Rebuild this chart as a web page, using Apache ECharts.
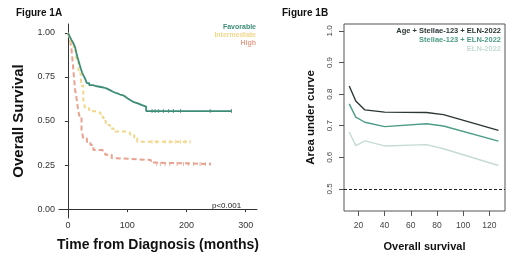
<!DOCTYPE html>
<html>
<head>
<meta charset="utf-8">
<script src="https://cdn.jsdelivr.net/npm/echarts@6/dist/echarts.min.js"></script>
<style>
  html, body { margin: 0; padding: 0; background: #fff; }
  #chart { width: 520px; height: 260px; }
</style>
</head>
<body>
<div id="chart"></div>
<script>
// Figure 1A: Kaplan-Meier steps [months, survival]
const favorable = [
  [0, 1], [3, 0.98], [6, 0.96], [8, 0.948], [10, 0.935], [12, 0.92], [14, 0.89],
  [16, 0.864], [18, 0.84], [20, 0.817], [22, 0.795], [24, 0.775], [26, 0.76],
  [29, 0.74], [32, 0.715], [36, 0.703], [42, 0.697], [49, 0.69],
  [60, 0.685], [65, 0.675], [71, 0.666], [76, 0.66], [80, 0.656], [84, 0.65],
  [88, 0.647], [92, 0.638], [97, 0.628], [101, 0.619], [105, 0.609], [110, 0.6],
  [118, 0.59], [125, 0.581], [132, 0.556], [276, 0.556]
]
const intermediate = [
  [0, 1], [3, 0.97], [6, 0.93], [10, 0.9], [14, 0.84], [18, 0.77], [22, 0.7],
  [26, 0.62], [29, 0.572], [36, 0.555], [49, 0.547], [55, 0.524], [60, 0.5],
  [64, 0.478], [71, 0.458], [77, 0.44], [96, 0.434], [105, 0.421], [112, 0.402],
  [117, 0.383], [207, 0.383]
]
const high = [
  [0, 1], [3, 0.97], [6, 0.91], [9, 0.8], [12, 0.68], [15, 0.62], [17, 0.57],
  [19, 0.53], [23, 0.45], [26, 0.402], [32, 0.383], [38, 0.364], [43, 0.336],
  [57, 0.327], [63, 0.309], [74, 0.289], [82, 0.279], [140, 0.264], [148, 0.256],
  [241, 0.256]
]
// censoring marks
const favCensor = [[142, 0.556], [147, 0.556], [153, 0.556], [161, 0.556], [170, 0.556], [178, 0.556], [190, 0.556], [240, 0.556], [276, 0.556]]
const intCensor = [[142, 0.383], [150, 0.383], [164, 0.383], [172, 0.383], [181, 0.383], [190, 0.383], [198, 0.383], [206, 0.383]]
const highCensor = [[150, 0.256], [156, 0.256], [164, 0.256], [172, 0.256], [184, 0.256], [195, 0.256], [203, 0.256], [212, 0.256], [223, 0.256], [232, 0.256], [240, 0.256]]
const kmXTicks = [0, 100, 200, 300]
const kmYTicks = [0, 0.25, 0.5, 0.75, 1]

// Figure 1B: time-dependent AUC
const aucTimes = [13, 18, 25, 40, 72, 85, 127]
const aucFull = [0.826, 0.778, 0.75, 0.743, 0.742, 0.735, 0.685]
const aucStellae = [0.769, 0.727, 0.711, 0.697, 0.706, 0.699, 0.651]
const aucEln = [0.68, 0.637, 0.652, 0.636, 0.64, 0.627, 0.574]
const aucXTicks = [20, 40, 60, 80, 100, 120]
const aucYTicks = [0.5, 0.6, 0.7, 0.8, 0.9, 1.0]

const C_FAV = '#3c8c76', C_INT = '#f1d68c', C_HIGH = '#e9a28f'
const C_A = '#2b3736', C_B = '#4d9c87', C_C = '#c6dbd3'
const FONT = 'Liberation Sans, Arial, sans-serif'

const chart = echarts.init(document.getElementById('chart'), null, { renderer: 'canvas' })

const kmAxisLine = { show: true, lineStyle: { color: '#333', width: 1 } }
const rAxisLine = { show: false }

const option = {
  backgroundColor: '#fff',
  animation: false,
  textStyle: { fontFamily: FONT },
  title: [
    { text: 'Figure 1A', left: 11, top: 3, textStyle: { fontSize: 10, fontWeight: 'bold', color: '#111', fontFamily: FONT } },
    { text: 'Figure 1B', left: 277, top: 3, textStyle: { fontSize: 10, fontWeight: 'bold', color: '#111', fontFamily: FONT } }
  ],
  grid: [
    { left: 59, top: 24, width: 198, height: 194 },
    { left: 344, top: 24, width: 161, height: 187, show: true, borderColor: '#555', borderWidth: 1, backgroundColor: 'transparent' }
  ],
  xAxis: [
    {
      gridIndex: 0, type: 'value', min: -15, max: 319,
      name: 'Time from Diagnosis (months)', nameLocation: 'middle', nameGap: 20,
      nameTextStyle: { fontSize: 14, fontWeight: 'bold', color: '#111' },
      axisLine: kmAxisLine,
      axisTick: { show: true, length: 3, lineStyle: { color: '#333' }, customValues: kmXTicks },
      axisLabel: { fontSize: 9, color: '#333', margin: 3, customValues: kmXTicks },
      splitLine: { show: false }
    },
    {
      gridIndex: 1, type: 'value', min: 9, max: 132,
      name: 'Overall survival', nameLocation: 'middle', nameGap: 30,
      nameTextStyle: { fontSize: 11, fontWeight: 'bold', color: '#111' },
      axisLine: rAxisLine,
      axisTick: { show: true, inside: false, length: 5, lineStyle: { color: '#555' }, customValues: aucXTicks },
      axisLabel: { fontSize: 8.5, color: '#444', margin: 10, customValues: aucXTicks },
      splitLine: { show: false }
    }
  ],
  yAxis: [
    {
      gridIndex: 0, type: 'value', min: -0.05, max: 1.05,
      name: 'Overall Survival', nameLocation: 'middle', nameGap: 33,
      nameTextStyle: { fontSize: 15, fontWeight: 'bold', color: '#111' },
      axisLine: kmAxisLine,
      axisTick: { show: true, length: 3, lineStyle: { color: '#333' }, customValues: kmYTicks },
      axisLabel: { fontSize: 9, color: '#333', margin: 4, customValues: kmYTicks, formatter: v => v.toFixed(2) },
      splitLine: { show: false }
    },
    {
      gridIndex: 1, type: 'value', min: 0.43, max: 1.022,
      name: 'Area under curve', nameLocation: 'middle', nameGap: 27,
      nameTextStyle: { fontSize: 11.5, fontWeight: 'bold', color: '#111' },
      axisLine: rAxisLine,
      axisTick: { show: true, length: 5, lineStyle: { color: '#555' }, customValues: aucYTicks },
      axisLabel: { fontSize: 8, color: '#444', margin: 10, rotate: 90, customValues: aucYTicks, formatter: v => v.toFixed(1) },
      splitLine: { show: false }
    }
  ],
  graphic: [
    { type: 'text', right: 264, top: 24, style: { text: 'Favorable', fill: C_FAV, font: 'bold 7px ' + FONT, textAlign: 'right' } },
    { type: 'text', right: 264, top: 32, style: { text: 'Intermediate', fill: C_INT, font: 'bold 7px ' + FONT, textAlign: 'right' } },
    { type: 'text', right: 264, top: 40, style: { text: 'High', fill: C_HIGH, font: 'bold 7px ' + FONT, textAlign: 'right' } },
    { type: 'text', left: 212, top: 202, style: { text: 'p<0.001', fill: '#222', font: '8px ' + FONT } },
    { type: 'text', right: 19, top: 27, style: { text: 'Age + Stellae-123 + ELN-2022', fill: C_A, font: 'bold 7.5px ' + FONT, textAlign: 'right' } },
    { type: 'text', right: 19, top: 36, style: { text: 'Stellae-123 + ELN-2022', fill: C_B, font: 'bold 7.5px ' + FONT, textAlign: 'right' } },
    { type: 'text', right: 19, top: 45, style: { text: 'ELN-2022', fill: C_C, font: 'bold 7.5px ' + FONT, textAlign: 'right' } }
  ],
  series: [
    { type: 'line', xAxisIndex: 0, yAxisIndex: 0, step: 'end', data: high, symbol: 'none', lineStyle: { color: C_HIGH, width: 2, type: [5, 3] } },
    { type: 'line', xAxisIndex: 0, yAxisIndex: 0, step: 'end', data: intermediate, symbol: 'none', lineStyle: { color: C_INT, width: 2, type: [4, 3] } },
    { type: 'line', xAxisIndex: 0, yAxisIndex: 0, step: 'end', data: favorable, symbol: 'none', lineStyle: { color: C_FAV, width: 1.8 } },
    { type: 'scatter', xAxisIndex: 0, yAxisIndex: 0, data: highCensor, symbol: 'rect', symbolSize: [1, 4], itemStyle: { color: C_HIGH } },
    { type: 'scatter', xAxisIndex: 0, yAxisIndex: 0, data: intCensor, symbol: 'rect', symbolSize: [1, 4], itemStyle: { color: C_INT } },
    { type: 'scatter', xAxisIndex: 0, yAxisIndex: 0, data: favCensor, symbol: 'rect', symbolSize: [1, 4], itemStyle: { color: C_FAV } },

    { type: 'line', xAxisIndex: 1, yAxisIndex: 1, data: aucTimes.map((t, i) => [t, aucEln[i]]), symbol: 'none', lineStyle: { color: C_C, width: 1.4 } },
    { type: 'line', xAxisIndex: 1, yAxisIndex: 1, data: aucTimes.map((t, i) => [t, aucStellae[i]]), symbol: 'none', lineStyle: { color: C_B, width: 1.4 } },
    {
      type: 'line', xAxisIndex: 1, yAxisIndex: 1, data: aucTimes.map((t, i) => [t, aucFull[i]]), symbol: 'none', lineStyle: { color: C_A, width: 1.4 },
      markLine: { silent: true, symbol: 'none', label: { show: false }, lineStyle: { color: '#222', type: [3, 2], width: 1 }, data: [{ yAxis: 0.5 }] }
    }
  ]
}

chart.setOption(option)
</script>
</body>
</html>
